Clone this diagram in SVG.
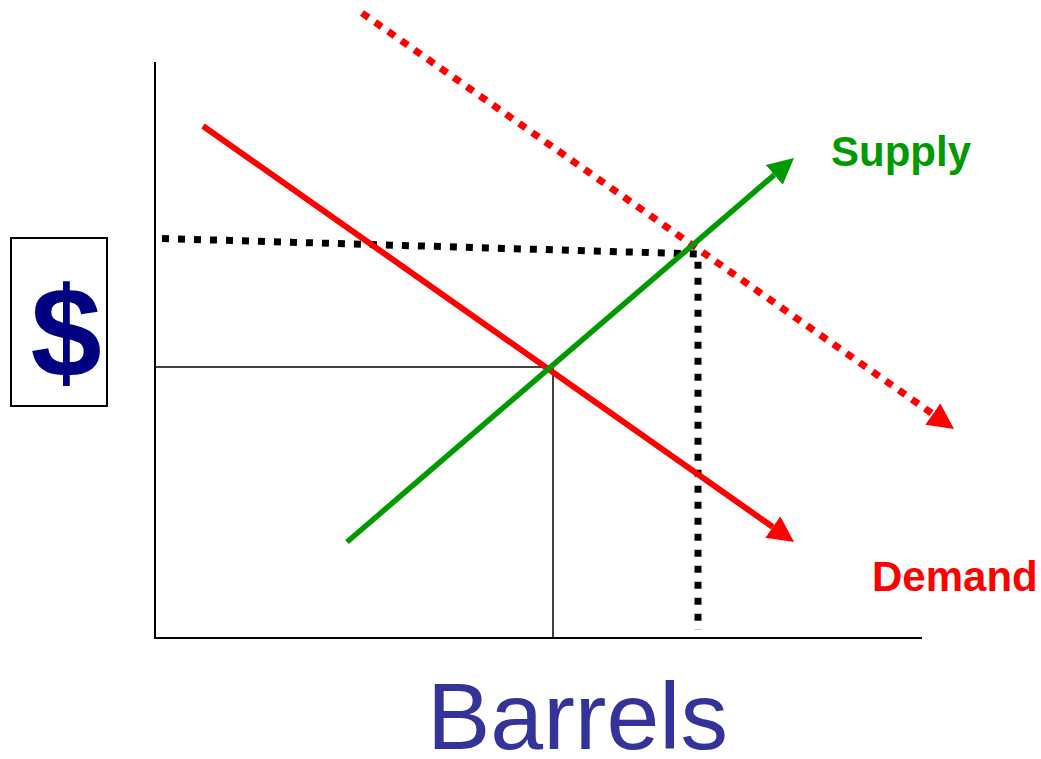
<svg xmlns="http://www.w3.org/2000/svg" width="1041" height="759" viewBox="0 0 1041 759">
<style>
.axis{stroke:#000;stroke-width:2;fill:none}
.thin{stroke:#000;stroke-width:1.5;fill:none}
.lbl{font-family:"Liberation Sans",Arial,sans-serif;font-weight:bold}
</style>
<defs>
<marker id="ar" viewBox="0 0 26 26" refX="0" refY="13" markerWidth="26" markerHeight="26" markerUnits="userSpaceOnUse" orient="auto"><path d="M0,0 L26,13 L0,26 z" fill="#f00"/></marker>
<marker id="ag" viewBox="0 0 26 26" refX="0" refY="13" markerWidth="26" markerHeight="26" markerUnits="userSpaceOnUse" orient="auto"><path d="M0,0 L26,13 L0,26 z" fill="#009900"/></marker>
</defs>
<rect width="1041" height="759" fill="#fff"/>
<g id="axes">
<line class="axis" x1="155" y1="62" x2="155" y2="639"/>
<line class="axis" x1="154" y1="638" x2="922" y2="638"/>
</g>
<g id="price-box">
<rect x="11" y="238" width="96" height="168" fill="#fff" stroke="#000" stroke-width="2"/>
<text x="66" y="376" text-anchor="middle" class="lbl" font-size="128" fill="#000080">$</text>
</g>
<g id="connectors">
<line class="thin" x1="155" y1="367" x2="553" y2="367"/>
<line class="thin" x1="553" y1="367" x2="553" y2="638"/>
<polyline points="162,238.5 698,254 698,630" fill="none" stroke="#000" stroke-width="7" stroke-dasharray="7 9"/>
<line x1="362" y1="13" x2="932.8" y2="414" stroke="#f00" stroke-width="7" stroke-dasharray="8 8" marker-end="url(#ar)"/>
<line x1="203" y1="126" x2="772.8" y2="527" stroke="#f00" stroke-width="6" marker-end="url(#ar)"/>
<line x1="347" y1="542" x2="774.3" y2="174.9" stroke="#009900" stroke-width="5.5" marker-end="url(#ag)"/>
</g>
<g id="supply-label"><text x="831" y="166" class="lbl" font-size="42" fill="#009900">Supply</text></g>
<g id="demand-label"><text x="872" y="591" class="lbl" font-size="42" fill="#f00">Demand</text></g>
<g id="x-label"><text x="427" y="749" font-family="'Liberation Sans',Arial,sans-serif" font-size="95" fill="#333399">Barrels</text></g>
</svg>
